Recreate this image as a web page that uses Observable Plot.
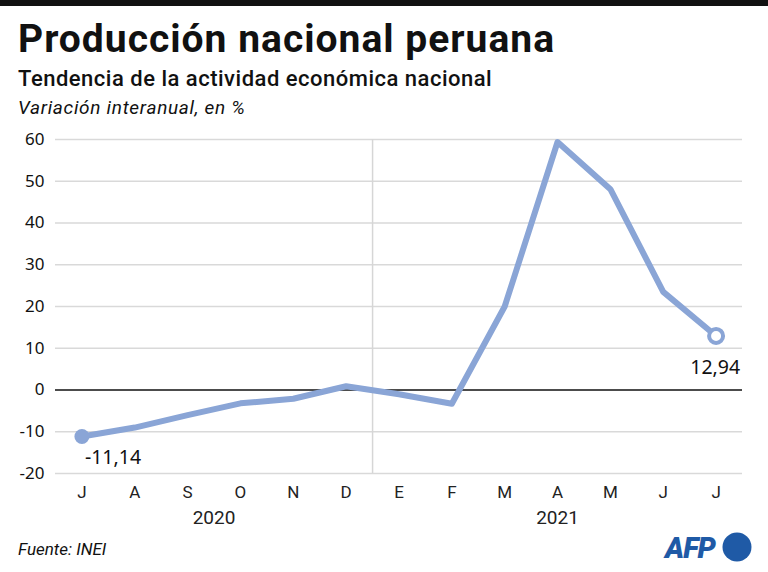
<!DOCTYPE html>
<html><head><meta charset="utf-8">
<script src="https://cdn.jsdelivr.net/npm/d3@7"></script>
<script src="https://cdn.jsdelivr.net/npm/@observablehq/plot@0.6"></script>
<style>
body{margin:0;background:#fff;}
#wrap{position:relative;width:768px;height:572px;overflow:hidden;font-family:Roboto,"Noto Sans",sans-serif;color:#111;}
#bar{position:absolute;left:0;top:0;width:768px;height:6px;background:#111;}
#wrap div.t{position:absolute;left:18px;line-height:1;white-space:nowrap;}
#title{top:20px;font-size:39px;font-weight:700;letter-spacing:1px;}
#sub{top:68px;font-size:22px;font-weight:500;letter-spacing:0.5px;}
#sub2{top:98px;font-size:19px;font-style:italic;letter-spacing:0.7px;}
#chart{position:absolute;left:0;top:120px;}
#src{top:541px;font-size:17px;font-style:italic;}
#logo{position:absolute;left:660px;top:530px;}
</style></head>
<body><div id="wrap">
<div id="bar"></div>
<div class="t" id="title">Producción nacional peruana</div>
<div class="t" id="sub">Tendencia de la actividad económica nacional</div>
<div class="t" id="sub2">Variación interanual, en %</div>
<div id="chart"></div>
<div class="t" id="src">Fuente: INEI</div>
<svg id="logo" width="108" height="34"><text x="5" y="28" font-family="Roboto" font-weight="900" font-style="italic" font-size="29" fill="#1f5aa6" letter-spacing="-1">AFP</text><circle cx="77" cy="17" r="14.5" fill="#1f5aa6"/></svg>
</div>
<script>
const months = ["J","A","S","O","N","D","E","F","M","A","M","J","J"];
const values = [-11.14, -9.0, -6.0, -3.2, -2.1, 0.9, -1.0, -3.3, 20.0, 59.4, 48.1, 23.5, 12.94];
const years = ["2020","2021"];
const yearPos = [2.5, 9];
const yTicks = [-20,-10,0,10,20,30,40,50,60];
const startLabel = "-11,14";
const endLabel = "12,94";

const data = values.map((v,i)=>({i, v, m: months[i]}));
const col = "#8aa5d6";
const last = data.length-1;

const plot = Plot.plot({
  width: 768, height: 420,
  marginTop: 19, marginBottom: 67, marginLeft: 55, marginRight: 26,
  x: {domain: [-0.5, months.length-0.5], axis: null},
  y: {domain: [-20, 60], axis: null},
  style: {fontFamily: "Roboto, 'Noto Sans', sans-serif", color: "#111"},
  marks: [
    Plot.ruleY(yTicks.filter(d=>d!==0), {stroke: "#d9d9d9", strokeWidth: 1.5}),
    Plot.ruleX([5.5], {y1: -20, y2: 60, stroke: "#d6d6d6", strokeWidth: 1.5}),
    Plot.ruleY([0], {stroke: "#111", strokeWidth: 1.5}),
    Plot.axisY(yTicks, {tickSize: 0, tickPadding: 11, fontSize: 17, fontFamily: "Noto Sans", label: null, tickFormat: d=>String(d)}),
    Plot.text(data, {x: "i", text: "m", frameAnchor: "bottom", dy: 24, fontSize: 17, fill: "#222"}),
    Plot.text(years, {x: (d,k)=>yearPos[k], text: d=>d, frameAnchor: "bottom", dy: 50, fontSize: 19, fill: "#222"}),
    Plot.line(data, {x: "i", y: "v", stroke: col, strokeWidth: 6, strokeLinejoin: "round"}),
    Plot.dot([data[0]], {x: "i", y: "v", r: 7.5, fill: col}),
    Plot.dot([data[last]], {x: "i", y: "v", r: 7, fill: "#fff", stroke: col, strokeWidth: 4}),
    Plot.text([data[0]], {x: "i", y: "v", text: d=>startLabel, textAnchor: "start", dx: 3, dy: 21, fontSize: 19.5, fontFamily: "Noto Sans", fill: "#111"}),
    Plot.text([data[last]], {x: "i", y: "v", text: d=>endLabel, textAnchor: "end", dx: 24, dy: 32, fontSize: 19.5, fontFamily: "Noto Sans", fill: "#111"})
  ]
});
document.getElementById("chart").appendChild(plot);
</script>
</body></html>
